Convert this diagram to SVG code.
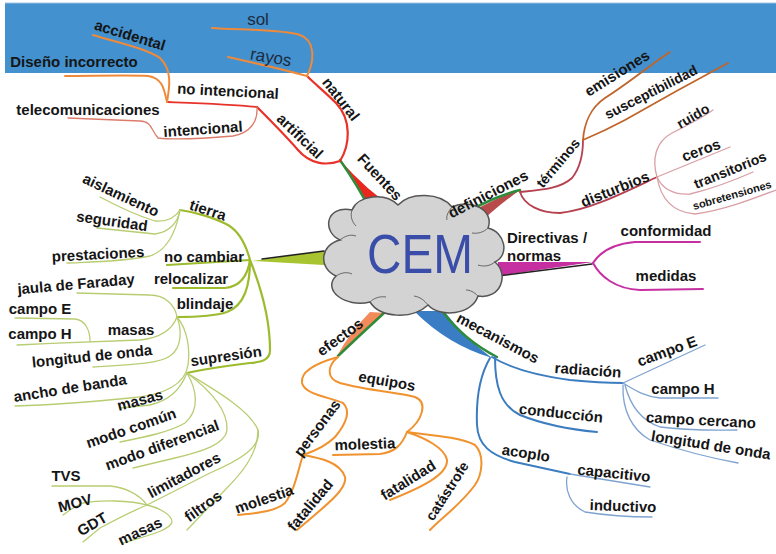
<svg xmlns="http://www.w3.org/2000/svg" width="776" height="554" viewBox="0 0 776 554">
<style>
.t{font-family:"Liberation Sans",Arial,sans-serif;font-weight:bold;font-size:15px;fill:#151515;text-anchor:middle}
.s14{font-size:14px}
.s11{font-size:11px}
.lt{font-weight:normal;font-size:17px;fill:#1d2b40}
.st{text-anchor:start}
.c{fill:none;stroke-linecap:round;stroke-linejoin:round}
.red{stroke:#E8322A;stroke-width:2.2}
.org{stroke:#EE8A3C;stroke-width:2}
.sal{stroke:#DD7B6B;stroke-width:1.3}
.dr{stroke:#B5404F;stroke-width:1.8}
.br{stroke:#C0652A;stroke-width:1.8}
.pk{stroke:#D8A0A6;stroke-width:1.3}
.mg{stroke:#C62FA0;stroke-width:2}
.bl{stroke:#3C7CC0;stroke-width:2}
.lb{stroke:#7FA3CF;stroke-width:1.3}
.or{stroke:#F0922E;stroke-width:2}
.gr{stroke:#9DBB2E;stroke-width:2.2}
.lg{stroke:#B8CD72;stroke-width:1.3}
</style>
<rect x="0" y="0" width="776" height="554" fill="#ffffff"/>
<rect x="5" y="3" width="771" height="70" fill="#4391CE"/>
<line x1="5" y1="3" x2="776" y2="3" stroke="#9cc4e6" stroke-width="1"/>

<g id="connectors">
  <path d="M340,160 Q360,186 372,213 L398,211 Q366,190 340,160 Z" fill="#E8281E"/>
  <path d="M340,160 Q358,186 372,213" class="c" stroke="#2E8B3A" stroke-width="2.5"/>
  <path d="M452,225 Q485,201 520,190 Q492,210 474,229 Z" fill="#B84A4A"/>
  <path d="M450,223 Q485,199 520,190" class="c" stroke="#2E8B3A" stroke-width="2.5"/>
  <path d="M498,262 L593,262 L498,276 Z" fill="#C62FA0"/>
  <path d="M498,276 L592,264" class="c" stroke="#222" stroke-width="1.6"/>
  <path d="M414,311 Q448,345 492,358 Q465,338 444,311 Z" fill="#3A7DC4"/>
  <path d="M442,311 Q464,340 497,357" class="c" stroke="#2E8B3A" stroke-width="2.5"/>
  <path d="M370,312 Q350,332 337,356 Q360,334 385,313 Z" fill="#F28A5A"/>
  <path d="M384,313 Q360,335 338,356" class="c" stroke="#2E8B3A" stroke-width="2.5"/>
  <path d="M252,261 L324,251 L324,265 Z" fill="#A8C430"/>
  <path d="M262,259 L324,251" class="c" stroke="#222" stroke-width="1.6"/>

  <path class="c red" d="M340,161 C350,145 352,120 336,103 C325,92 315,84 307,76"/>
  <path class="c red" d="M340,161 C326,166 310,164 298,150 C285,135 270,120 257,107"/>
  <path class="c red" style="stroke-width:1.8" d="M257,107 C230,104 195,103 167,102"/>
  <path class="c org" d="M307,76 C315,60 315,40 300,35 C280,29 240,30 212,28"/>
  <path class="c org" d="M307,76 C285,70 255,63 228,57"/>
  <path class="c org" d="M167,102 C170,85 172,70 160,58 C145,48 115,42 93,35"/>
  <path class="c org" d="M167,102 C164,88 162,78 148,76 C130,75 90,76 65,76"/>
  <path class="c sal" d="M257,107 C258,122 250,133 233,136 C210,138 175,140 158,138 C150,128 152,122 140,121 L68,118"/>

  <path class="c dr" d="M520,192 C540,190 560,189 572,178 C580,168 583,155 583,140"/>
  <path class="c br" d="M583,140 C584,125 590,108 605,98 C630,82 650,65 670,52"/>
  <path class="c br" d="M583,140 C595,135 610,128 625,120 C660,100 700,78 728,63"/>
  <path class="c dr" d="M520,192 C524,205 540,213 560,213 C590,210 625,192 657,177"/>
  <path class="c pk" d="M657,177 C652,160 655,142 672,133 C690,124 703,117 713,110"/>
  <path class="c pk" d="M657,177 L730,147"/>
  <path class="c pk" d="M657,177 C662,188 672,195 690,194 C715,188 735,180 753,172"/>
  <path class="c pk" d="M657,177 C660,195 670,212 695,214 C725,210 755,198 776,190"/>

  <path class="c mg" d="M593,263 C600,252 612,244 635,242 L700,242"/>
  <path class="c mg" d="M593,263 C600,276 615,289 640,290 L703,289"/>

  <path class="c bl" d="M492,357 C510,368 540,376 570,380 C590,382 610,383 623,383"/>
  <path class="c bl" d="M495,357 C495,385 500,405 520,415 C545,425 575,430 597,432"/>
  <path class="c bl" d="M490,358 C480,375 476,400 477,425 C478,445 490,455 515,462 L570,474"/>
  <path class="c lb" d="M623,383 L705,345"/>
  <path class="c lb" d="M623,383 C635,390 645,397 660,398 L718,398"/>
  <path class="c lb" d="M625,385 C630,405 640,420 660,427 C690,431 715,430 737,430"/>
  <path class="c lb" d="M623,385 C622,410 632,430 650,440 C680,450 710,458 738,463"/>
  <path class="c lb" d="M570,474 L650,487"/>
  <path class="c lb" d="M567,477 C565,490 570,505 585,512 C610,516 635,517 652,517"/>

  <path class="c or" d="M338,357 C328,365 325,378 340,383 C365,390 400,393 415,397 C428,402 423,420 407,432"/>
  <path class="c or" d="M407,432 C402,445 395,452 380,454 L333,455"/>
  <path class="c or" d="M407,432 C425,438 445,448 447,460 C448,475 420,488 390,500"/>
  <path class="c or" d="M407,432 C430,435 460,437 475,445 C485,455 482,475 475,485 C460,505 445,515 430,530"/>
  <path class="c or" d="M338,357 C320,362 300,370 302,383 C305,395 330,397 343,403 C352,412 345,425 335,437 C325,447 312,452 303,455"/>
  <path class="c or" d="M303,455 C320,458 340,462 345,477 C348,490 320,510 297,530"/>
  <path class="c or" d="M303,455 C298,470 295,490 285,503 C275,512 255,513 238,515"/>

  <path class="c gr" d="M250,260 C246,245 240,232 228,225 C215,218 195,212 180,210"/>
  <path class="c gr" d="M250,260 L167,265"/>
  <path class="c gr" d="M250,260 C248,275 240,287 225,288 L173,288"/>
  <path class="c gr" d="M250,260 C250,285 245,305 227,312 C215,316 195,317 177,317"/>
  <path class="c gr" d="M250,260 C262,290 270,320 270,350 C270,360 262,362 250,363 C225,366 200,370 187,373"/>
  <path class="c lg" d="M180,210 C175,218 168,222 155,221 C135,215 115,205 100,197"/>
  <path class="c lg" d="M180,210 C178,222 170,232 155,234 L97,228"/>
  <path class="c lg" d="M180,210 C176,232 168,250 150,256 C120,262 90,262 67,263"/>
  <path class="c lg" d="M177,317 C175,305 165,295 150,295 L77,293"/>
  <path class="c lg" d="M177,317 C172,330 160,338 140,340 C110,341 60,343 17,345"/>
  <path class="c lg" d="M90,341 C90,330 85,320 75,319 L15,318"/>
  <path class="c lg" d="M177,317 C182,330 182,348 170,356 C160,363 140,364 93,367"/>
  <path class="c lg" d="M177,317 C188,330 190,350 188,365 C185,385 165,395 130,398 C90,402 50,405 15,406"/>
  <path class="c lg" d="M187,373 C180,390 170,400 150,405 L120,408"/>
  <path class="c lg" d="M187,373 C197,390 200,410 185,423 C170,432 145,437 120,442"/>
  <path class="c lg" d="M187,373 C210,390 228,410 227,430 C225,445 200,452 175,458 L133,468"/>
  <path class="c lg" d="M187,373 C215,390 250,410 258,430 C262,447 240,460 210,473 L147,505"/>
  <path class="c lg" d="M258,430 C258,455 240,475 225,490 L187,530"/>
  <path class="c lg" d="M147,505 C140,495 125,487 110,486 L52,486"/>
  <path class="c lg" d="M147,505 C130,500 100,500 83,503 C75,506 70,510 63,515"/>
  <path class="c lg" d="M147,505 C130,512 115,520 100,528 L83,542"/>
  <path class="c lg" d="M147,505 C160,508 172,515 172,522 C170,530 150,535 123,543"/>
</g>

<g id="cem">
  <path d="M340,240 C322,232 325,205 352,210 C358,195 385,192 398,205 C410,192 440,192 452,207 C470,198 495,210 488,228 C505,232 510,255 495,262 C510,275 500,300 478,296 C472,315 440,318 428,305 C412,320 380,318 370,302 C345,308 322,290 336,276 C318,268 320,245 340,240 Z" fill="#D3D3D3" stroke="#555" stroke-width="1.5"/>
  <path d="M340,240 C345,236 350,234 356,236 M352,210 C350,216 352,222 356,226 M452,207 C448,212 446,216 447,220 M488,228 C484,232 478,234 472,233 M495,262 C490,266 484,267 478,265 M478,296 C474,292 470,290 466,290 M428,305 C424,300 420,297 414,296 M370,302 C374,298 380,296 386,297 M336,276 C342,272 348,272 352,274" fill="none" stroke="#666" stroke-width="1"/>
  <text x="420" y="273" style="font-family:'Liberation Sans',Arial,sans-serif;font-size:56px;fill:#3A4DA8;text-anchor:middle" textLength="106" lengthAdjust="spacingAndGlyphs">CEM</text>
</g>

<g id="fuentes"><text class="t" transform="translate(380,177) rotate(47)" dy="0.35em">Fuentes</text></g>
<g id="natural"><text class="t" transform="translate(341,99) rotate(52)" dy="0.35em">natural</text></g>
<g id="sol"><text class="t lt" x="258" y="19" dy="0.35em">sol</text></g>
<g id="rayos"><text class="t lt" transform="translate(271,57) rotate(10)" dy="0.35em">rayos</text></g>
<g id="artificial"><text class="t" transform="translate(300,136) rotate(44)" dy="0.35em">artificial</text></g>
<g id="no-intencional"><text class="t" transform="translate(228,91) rotate(3)" dy="0.35em">no intencional</text></g>
<g id="accidental"><text class="t" transform="translate(130,35) rotate(17)" dy="0.35em">accidental</text></g>
<g id="diseno"><text class="t" x="74" y="62" dy="0.35em">Diseño incorrecto</text></g>
<g id="intencional"><text class="t" transform="translate(203,129) rotate(-4)" dy="0.35em">intencional</text></g>
<g id="telecom"><text class="t" x="88" y="110" dy="0.35em">telecomunicaciones</text></g>

<g id="definiciones"><text class="t" transform="translate(488,194) rotate(-27)" dy="0.35em">definiciones</text></g>
<g id="terminos"><text class="t s14" transform="translate(558,163) rotate(-50)" dy="0.35em">términos</text></g>
<g id="emisiones"><text class="t" transform="translate(617,73) rotate(-32)" dy="0.35em">emisiones</text></g>
<g id="susceptibilidad"><text class="t s14" transform="translate(651,92) rotate(-27)" dy="0.35em">susceptibilidad</text></g>
<g id="disturbios"><text class="t" transform="translate(615,189) rotate(-22)" dy="0.35em">disturbios</text></g>
<g id="ruido"><text class="t s14" transform="translate(693,116) rotate(-30)" dy="0.35em">ruido</text></g>
<g id="ceros"><text class="t" transform="translate(701,150) rotate(-20)" dy="0.35em">ceros</text></g>
<g id="transitorios"><text class="t s14" transform="translate(730,170) rotate(-22)" dy="0.35em">transitorios</text></g>
<g id="sobretensiones"><text class="t s11 st" transform="translate(694,210) rotate(-16)">sobretensiones</text></g>

<g id="directivas"><text class="t st" x="507" y="243">Directivas /</text><text class="t st" x="507" y="261">normas</text></g>
<g id="conformidad"><text class="t" x="666" y="231" dy="0.35em">conformidad</text></g>
<g id="medidas"><text class="t" x="666" y="276" dy="0.35em">medidas</text></g>

<g id="mecanismos"><text class="t" transform="translate(498,338) rotate(28)" dy="0.35em">mecanismos</text></g>
<g id="radiacion"><text class="t" transform="translate(588,370) rotate(4)" dy="0.35em">radiación</text></g>
<g id="campo-e-r"><text class="t" transform="translate(667,351) rotate(-20)" dy="0.35em">campo E</text></g>
<g id="campo-h-r"><text class="t" x="683" y="389" dy="0.35em">campo H</text></g>
<g id="campo-cercano"><text class="t" transform="translate(701,420) rotate(3)" dy="0.35em">campo cercano</text></g>
<g id="longitud-r"><text class="t" transform="translate(711,445) rotate(9)" dy="0.35em">longitud de onda</text></g>
<g id="conduccion"><text class="t" transform="translate(561,413) rotate(6)" dy="0.35em">conducción</text></g>
<g id="acoplo"><text class="t" transform="translate(526,453) rotate(9)" dy="0.35em">acoplo</text></g>
<g id="capacitivo"><text class="t" transform="translate(614,473) rotate(6)" dy="0.35em">capacitivo</text></g>
<g id="inductivo"><text class="t" transform="translate(623,506) rotate(2)" dy="0.35em">inductivo</text></g>

<g id="efectos"><text class="t" transform="translate(340,337) rotate(-36)" dy="0.35em">efectos</text></g>
<g id="equipos"><text class="t" transform="translate(387,381) rotate(10)" dy="0.35em">equipos</text></g>
<g id="molestia-e"><text class="t" transform="translate(365,444) rotate(-2)" dy="0.35em">molestia</text></g>
<g id="fatalidad-e"><text class="t" transform="translate(408,480) rotate(-32)" dy="0.35em">fatalidad</text></g>
<g id="catastrofe"><text class="t s14" transform="translate(447,491) rotate(-57)" dy="0.35em">catástrofe</text></g>
<g id="personas"><text class="t" transform="translate(317,428) rotate(-53)" dy="0.35em">personas</text></g>
<g id="fatalidad-p"><text class="t" transform="translate(310,505) rotate(-50)" dy="0.35em">fatalidad</text></g>
<g id="molestia-p"><text class="t" transform="translate(264,499) rotate(-19)" dy="0.35em">molestia</text></g>

<g id="tierra"><text class="t" transform="translate(208,210) rotate(18)" dy="0.35em">tierra</text></g>
<g id="aislamiento"><text class="t" transform="translate(121,195) rotate(25)" dy="0.35em">aislamiento</text></g>
<g id="seguridad"><text class="t" transform="translate(112,221) rotate(8)" dy="0.35em">seguridad</text></g>
<g id="prestaciones"><text class="t" transform="translate(98,254) rotate(-3)" dy="0.35em">prestaciones</text></g>
<g id="no-cambiar"><text class="t" x="204" y="257" dy="0.35em">no cambiar</text></g>
<g id="relocalizar"><text class="t" x="191" y="279" dy="0.35em">relocalizar</text></g>
<g id="blindaje"><text class="t" x="205" y="304" dy="0.35em">blindaje</text></g>
<g id="jaula"><text class="t" transform="translate(76,284) rotate(-5)" dy="0.35em">jaula de Faraday</text></g>
<g id="campo-e-l"><text class="t" x="40" y="309" dy="0.35em">campo E</text></g>
<g id="campo-h-l"><text class="t" x="40" y="334" dy="0.35em">campo H</text></g>
<g id="masas-b"><text class="t" x="131" y="330" dy="0.35em">masas</text></g>
<g id="longitud-l"><text class="t" transform="translate(92,356) rotate(-6)" dy="0.35em">longitud de onda</text></g>
<g id="ancho"><text class="t" transform="translate(70,388) rotate(-9)" dy="0.35em">ancho de banda</text></g>
<g id="supresion"><text class="t" transform="translate(226,356) rotate(-8)" dy="0.35em">supresión</text></g>
<g id="masas-s"><text class="t" transform="translate(140,400) rotate(-15)" dy="0.35em">masas</text></g>
<g id="modo-comun"><text class="t" transform="translate(131,428) rotate(-19)" dy="0.35em">modo común</text></g>
<g id="modo-dif"><text class="t" transform="translate(162,445) rotate(-20)" dy="0.35em">modo diferencial</text></g>
<g id="limitadores"><text class="t" transform="translate(184,475) rotate(-28)" dy="0.35em">limitadores</text></g>
<g id="filtros"><text class="t" transform="translate(203,506) rotate(-36)" dy="0.35em">filtros</text></g>
<g id="tvs"><text class="t" x="66" y="476" dy="0.35em">TVS</text></g>
<g id="mov"><text class="t" transform="translate(75,503) rotate(-15)" dy="0.35em">MOV</text></g>
<g id="gdt"><text class="t" transform="translate(92,524) rotate(-30)" dy="0.35em">GDT</text></g>
<g id="masas-l"><text class="t" transform="translate(140,531) rotate(-25)" dy="0.35em">masas</text></g>
</svg>
